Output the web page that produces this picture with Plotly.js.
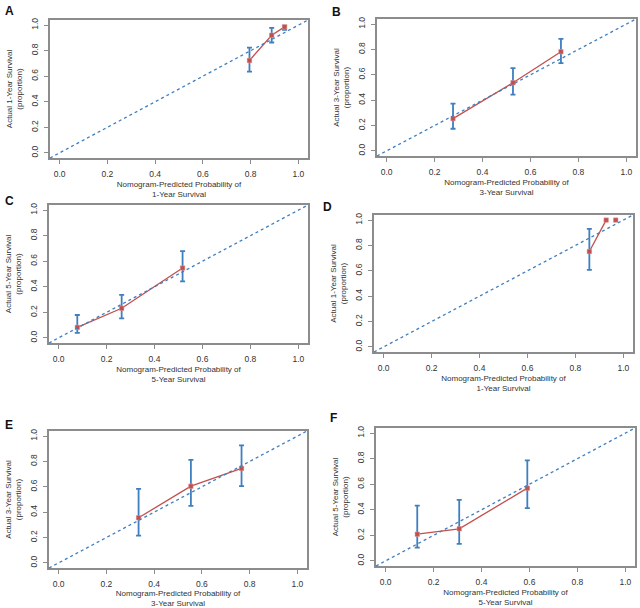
<!DOCTYPE html>
<html>
<head>
<meta charset="utf-8">
<script src="https://cdn.plot.ly/plotly-3.0.1.min.js"></script>
<style>html,body{margin:0;padding:0;background:#fff;}#chart{width:640px;height:608px;}</style>
</head>
<body>
<div id="chart"></div>
<script>
// ---- data ----
const panelLetters = ["A", "B", "C", "D", "E", "F"];
const yearLabels = ["1-Year", "3-Year", "5-Year", "1-Year", "3-Year", "5-Year"];

const predA = [0.795, 0.888, 0.942];
const obsA = [0.723, 0.921, 0.986];
const lowA = [0.636, 0.864, 0.962];
const highA = [0.824, 0.979, 0.996];

const predB = [0.277, 0.527, 0.727];
const obsB = [0.255, 0.538, 0.782];
const lowB = [0.175, 0.444, 0.692];
const highB = [0.373, 0.653, 0.883];

const predC = [0.078, 0.263, 0.517];
const obsC = [0.082, 0.232, 0.547];
const lowC = [0.039, 0.153, 0.442];
const highC = [0.179, 0.337, 0.679];

const predD = [0.858, 0.928, 0.968];
const obsD = [0.752, 1.0, 1.0];
const lowD = [0.608, null, null];
const highD = [0.930, null, null];

const predE = [0.335, 0.554, 0.766];
const obsE = [0.356, 0.605, 0.745];
const lowE = [0.216, 0.449, 0.605];
const highE = [0.584, 0.813, 0.927];

const predF = [0.132, 0.307, 0.591];
const obsF = [0.209, 0.251, 0.569];
const lowF = [0.104, 0.133, 0.413];
const highF = [0.433, 0.478, 0.786];

const tickVals = [0, 0.2, 0.4, 0.6, 0.8, 1.0];
const tickText = ["0.0", "0.2", "0.4", "0.6", "0.8", "1.0"];

const panels = [
  {pred: predA, obs: obsA, low: lowA, high: highA, nLine: 3},
  {pred: predB, obs: obsB, low: lowB, high: highB, nLine: 3},
  {pred: predC, obs: obsC, low: lowC, high: highC, nLine: 3},
  {pred: predD, obs: obsD, low: lowD, high: highD, nLine: 2},
  {pred: predE, obs: obsE, low: lowE, high: highE, nLine: 3},
  {pred: predF, obs: obsF, low: lowF, high: highF, nLine: 3}
];

// ---- layout geometry (pixel boxes of each plot area) ----
const W = 640, H = 608;
const boxes = [
  [50, 308, 20, 158],
  [377, 636, 19, 156],
  [49, 308, 205, 343],
  [374, 633, 215, 352],
  [49, 307, 431, 568],
  [376, 635, 428, 566]
];
const letterPos = [[9, 11], [336, 12], [9, 201], [327, 207], [9, 425], [333, 418]];

const BLUE = "#3f7fbf";
const RED = "#c0504d";
const GRAY = "#8c8c8c";
const TXT = "#333333";
const FONT = "Liberation Sans, Arial, sans-serif";

const traces = [];
const layout = {
  width: W, height: H,
  margin: {l: 0, r: 0, t: 0, b: 0},
  paper_bgcolor: "#fff", plot_bgcolor: "#fff",
  showlegend: false,
  font: {family: FONT, color: TXT, size: 8},
  shapes: [], annotations: []
};

panels.forEach((p, i) => {
  const k = i === 0 ? "" : String(i + 1);
  const xa = "x" + k, ya = "y" + k;
  const b = boxes[i];
  const axBase = {
    range: [-0.04, 1.04],
    tickvals: tickVals, ticktext: tickText,
    ticks: "outside", ticklen: 4, tickwidth: 1, tickcolor: GRAY,
    showline: true, linecolor: GRAY, linewidth: 1.6, mirror: true,
    showgrid: false, zeroline: false, fixedrange: true,
    tickfont: {size: 8.5, color: TXT, family: FONT}
  };
  layout["xaxis" + k] = Object.assign({}, axBase, {
    domain: [b[0] / W, b[1] / W],
    anchor: ya,
    ticklabelstandoff: 3,
    title: {text: "Nomogram-Predicted Probability of<br>" + yearLabels[i] + " Survival",
            font: {size: 8, color: TXT, family: FONT}, standoff: 3}
  });
  layout["yaxis" + k] = Object.assign({}, axBase, {
    domain: [1 - b[3] / H, 1 - b[2] / H],
    anchor: xa,
    tickangle: -90,
    ticklabelstandoff: 3,
    title: {text: "Actual " + yearLabels[i] + " Survival<br>(proportion)",
            font: {size: 8, color: TXT, family: FONT}, standoff: 6}
  });

  // ideal (45-degree) reference line across the plot area
  layout.shapes.push({
    type: "line", xref: xa + " domain", yref: ya + " domain",
    x0: 0, y0: 0, x1: 1, y1: 1,
    line: {color: BLUE, width: 1.3, dash: "dot"}
  });

  // calibration line
  traces.push({
    type: "scatter", mode: "lines", xaxis: xa, yaxis: ya,
    x: p.pred.slice(0, p.nLine), y: p.obs.slice(0, p.nLine),
    line: {color: RED, width: 1.3}, hoverinfo: "skip"
  });
  // error bars + points
  const up = p.high.map((h, j) => h === null ? NaN : h - p.obs[j]);
  const dn = p.low.map((l, j) => l === null ? NaN : p.obs[j] - l);
  traces.push({
    type: "scatter", mode: "markers", xaxis: xa, yaxis: ya,
    x: p.pred, y: p.obs,
    marker: {symbol: "square", size: 4, color: RED, line: {width: 0}},
    error_y: {type: "data", symmetric: false, array: up, arrayminus: dn,
              color: BLUE, thickness: 1.8, width: 2.5},
    hoverinfo: "skip"
  });
  // re-draw markers on top of error bars
  traces.push({
    type: "scatter", mode: "markers", xaxis: xa, yaxis: ya,
    x: p.pred, y: p.obs,
    marker: {symbol: "square", size: 4.5, color: RED, line: {width: 0.5, color: "#e8a0a0"}},
    hoverinfo: "skip"
  });

  layout.annotations.push({
    text: "<b>" + panelLetters[i] + "</b>", xref: "paper", yref: "paper",
    x: letterPos[i][0] / W, y: 1 - letterPos[i][1] / H,
    xanchor: "center", yanchor: "middle", showarrow: false,
    font: {size: 12, color: "#111", family: FONT}
  });
});

Plotly.newPlot("chart", traces, layout, {staticPlot: true, displayModeBar: false});
</script>
</body>
</html>
